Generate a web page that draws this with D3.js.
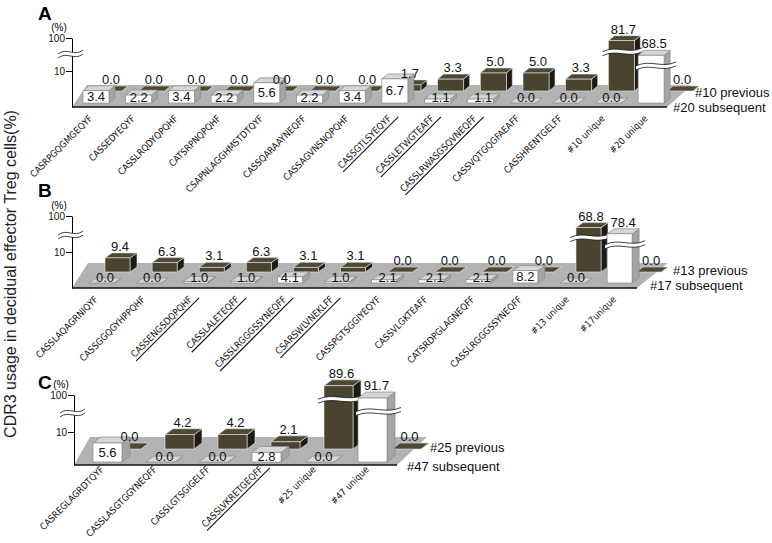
<!DOCTYPE html>
<html>
<head>
<meta charset="utf-8">
<script src="https://cdn.jsdelivr.net/npm/d3@7"></script>
<style>
body { margin: 0; background: #fff; }
svg { display: block; font-family: Arial, "Liberation Sans", sans-serif; }
</style>
</head>
<body>
<div id="chart-area"></div>
<script>
var width = 772, height = 543;

// ---- data ----
// panel A
var catsA = ["CASRPGQGMGEQYF", "CASSEDYEQYF", "CASSLRQDYQPQHF", "CATSRPNQPQHF", "CSAPNLAGGHMSTDTQYF",
    "CASSQARAAYNEQFF", "CASSAGVNSNQPQHF", "CASSGTLSYEQYF", "CASSLETWGTEAFF", "CASSLRWASGSQVNEQFF",
    "CASSVQTGQGFAEAFF", "CASSHRENTGELFF", "#10 unique", "#20 unique"];
var prevA = [0.0, 0.0, 0.0, 0.0, 0.0, 0.0, 0.0, 1.7, 3.3, 5.0, 5.0, 3.3, 81.7, 0.0];
var subsA = [3.4, 2.2, 3.4, 2.2, 5.6, 2.2, 3.4, 6.7, 1.1, 1.1, 0.0, 0.0, 0.0, 68.5];
var underA = [7, 8, 9];
var namesA = ["#10 previous", "#20 subsequent"];

// panel B
var catsB = ["CASSLAQAGRNIQYF", "CASSGGQGYHPPQHF", "CASSENGSDQPQHF", "CASSLALETEQFF", "CASSLRGGGSSYNEQFF",
    "CSARSWLVNEKLFF", "CASSPGTSGGIYEQYF", "CASSVLGKTEAFF", "CATSRDPGLAGNEQFF", "CASSLRGGGSSYNEQFF",
    "#13 unique", "#17unique"];
var prevB = [9.4, 6.3, 3.1, 6.3, 3.1, 3.1, 0.0, 0.0, 0.0, 0.0, 68.8, 0.0];
var subsB = [0.0, 0.0, 1.0, 1.0, 4.1, 1.0, 2.1, 2.1, 2.1, 8.2, 0.0, 78.4];
var underB = [2, 3, 4, 5];
var namesB = ["#13 previous", "#17 subsequent"];

// panel C
var catsC = ["CASREGLAGRDTQYF", "CASSLASGTGGYNEQFF", "CASSLGTSGIGELFF", "CASSLVKRETGEQFF", "#25 unique", "#47 unique"];
var prevC = [0.0, 4.2, 4.2, 2.1, 89.6, 0.0];
var subsC = [5.6, 0.0, 0.0, 2.8, 0.0, 91.7];
var underC = [3];
var namesC = ["#25 previous", "#47 subsequent"];

var yTicks = [10, 100];
var yTitle = "CDR3 usage in decidual effector Treg cells(%)";

// ---- layout of each 3D panel (pixels) ----
var layoutA = { letter: "A", letterY: 20, front: 107, back: 85, fl: 72, fbl: 87, fr: 667, fbr: 692,
    x0: 83, step: 42.7, bw: 26, wBase: 103, dDx: 13, dBase: 91, dx: 6, dy: -5,
    bars: [0, 36, 54], axis: [0, 36, 69], brk: 54, nameX: [695, 673], nameY: [92, 107], labY: 12 };
var layoutB = { letter: "B", letterY: 197, front: 288, back: 263, fl: 72, fbl: 88, fr: 637, fbr: 668,
    x0: 89, step: 47.1, bw: 25, wBase: 283, dDx: 16, dBase: 272, dx: 7, dy: -5,
    bars: [0, 15, 60], axis: [0, 36, 72], brk: 235, nameX: [673, 650], nameY: [270, 285], labY: 12 };
var layoutC = { letter: "C", letterY: 389, front: 465, back: 437, fl: 74, fbl: 90, fr: 397, fbr: 427,
    x0: 93, step: 53, bw: 29, wBase: 462, dDx: 19, dBase: 449, dx: 8, dy: -6,
    bars: [0, 34, 67], axis: [0, 33, 70], brk: 413, nameX: [430, 407], nameY: [447, 466], labY: 5 };

var darkStyle = { front: "#4a4330", top: "#4f4834", side: "#1d1b13", stroke: "#e6e6e6", sw: 0.6 };
var whiteStyle = { front: "#ffffff", top: "#d6d6d6", side: "#a4a4a4", stroke: "#8a8a8a", sw: 0.7 };

var svg = d3.select("#chart-area").append("svg")
    .attr("width", width)
    .attr("height", height);

// y title
svg.append("text")
    .attr("transform", "translate(16 274) rotate(-90)")
    .attr("text-anchor", "middle")
    .attr("font-size", "16px")
    .attr("fill", "#222")
    .text(yTitle);

function pts(a) { return a.map(function(p) { return p[0] + "," + p[1]; }).join(" "); }

// one 3D box: front face, top face, right side
function box(g, x, base, w, h, dx, dy, st) {
    var t = base - h;
    g.append("polygon")
        .attr("points", pts([[x + w, t], [x + w + dx, t + dy], [x + w + dx, base + dy], [x + w, base]]))
        .attr("fill", st.side).attr("stroke", st.stroke).attr("stroke-width", st.sw);
    g.append("polygon")
        .attr("points", pts([[x, t], [x + dx, t + dy], [x + w + dx, t + dy], [x + w, t]]))
        .attr("fill", st.top).attr("stroke", st.stroke).attr("stroke-width", st.sw);
    if (h > 0) {
        g.append("rect")
            .attr("x", x).attr("y", t)
            .attr("width", w).attr("height", h)
            .attr("fill", st.front).attr("stroke", st.stroke).attr("stroke-width", st.sw);
    }
}

// wavy white gap used for the broken scale
function breakBand(g, x1, x2, y, thick) {
    var w = x2 - x1;
    function wave(yy) {
        return "M" + x1 + "," + (yy + 2) +
            " C" + (x1 + w * 0.35) + "," + (yy - 5) + " " + (x1 + w * 0.65) + "," + (yy + 5) + " " + x2 + "," + (yy - 2);
    }
    function waveBack(yy) {
        return " L" + x2 + "," + (yy - 2) +
            " C" + (x1 + w * 0.65) + "," + (yy + 5) + " " + (x1 + w * 0.35) + "," + (yy - 5) + " " + x1 + "," + (yy + 2) + " Z";
    }
    g.append("path").attr("d", wave(y) + waveBack(y + thick)).attr("fill", "#fff");
    g.append("path").attr("d", wave(y)).attr("fill", "none").attr("stroke", "#111").attr("stroke-width", 0.8);
    g.append("path").attr("d", wave(y + thick)).attr("fill", "none").attr("stroke", "#111").attr("stroke-width", 0.8);
}

function drawPanel(L, cats, prev, subs, under, names) {
    var g = svg.append("g");
    var n = cats.length;

    var x = d3.scaleBand()
        .domain(d3.range(n))
        .range([L.x0, L.x0 + (n - 1) * L.step + L.bw])
        .paddingInner(1 - L.bw / L.step)
        .paddingOuter(0);
    var bw = x.bandwidth();
    var hScale = d3.scaleLinear().domain([0, 10, 100]).range(L.bars);
    var yAxis = d3.scaleLinear().domain([0, 10, 100])
        .range([L.front, L.front - L.axis[1], L.front - L.axis[2]]);

    // floor
    g.append("polygon")
        .attr("points", pts([[L.fl, L.front], [L.fbl, L.back], [L.fbr, L.back], [L.fr, L.front]]))
        .attr("fill", "#b2b2b2");

    // y axis
    var ax = g.append("g")
        .attr("transform", "translate(" + L.fl + " 0)")
        .call(d3.axisLeft(yAxis).tickValues(yTicks).tickSize(6).tickSizeOuter(0).tickPadding(1));
    ax.selectAll("text").attr("font-size", "10px").attr("font-family", "Arial, sans-serif").attr("fill", "#111");
    breakBand(g, L.fl - 14, L.fl + 11, L.brk - 2, 4);

    g.append("text")
        .attr("x", L.fl - 13).attr("y", yAxis(100) - 7)
        .attr("text-anchor", "middle")
        .attr("font-size", "10px")
        .text("(%)");

    g.append("text")
        .attr("x", 38).attr("y", L.letterY)
        .attr("font-size", "19px")
        .attr("font-weight", "bold")
        .text(L.letter);

    // floor front edge
    g.append("line")
        .attr("x1", L.fl).attr("x2", L.fr)
        .attr("y1", L.front).attr("y2", L.front)
        .attr("stroke", "#111").attr("stroke-width", 1.6);

    var gb = g.append("g");   // bars
    var gl = g.append("g");   // value labels on top

    function valueLabel(v, lx, ly, central) {
        var t = gl.append("text")
            .attr("x", lx).attr("y", ly)
            .attr("text-anchor", "middle")
            .attr("font-size", "13px")
            .attr("fill", "#111")
            .text(v.toFixed(1));
        if (central) t.attr("dominant-baseline", "central");
    }

    // back row: previous
    prev.forEach(function(v, i) {
        var bx = x(i) + L.dDx, hh = hScale(v);
        // keep a low back bar visible when a tall front bar stands before it
        if (subs[i] > 10 && v < subs[i]) bx = x(i) + bw + L.dx - 3;
        box(gb, bx, L.dBase, bw, hh, L.dx, L.dy, darkStyle);
        if (v > 10) breakBand(gb, bx - 6, bx + bw + L.dx + 2, L.dBase - hh * 0.82, 4);
        valueLabel(v, bx + bw / 2 + L.dx / 2 - 1, L.dBase - hh + L.dy - 2, false);
    });

    // front row: subsequent
    subs.forEach(function(v, i) {
        var bx = x(i), hh = hScale(v);
        box(gb, bx, L.wBase, bw, hh, L.dx, L.dy, whiteStyle);
        if (v > 10) {
            breakBand(gb, bx - 2, bx + bw + L.dx + 6, L.wBase - hh * 0.82, 4);
            valueLabel(v, bx + bw / 2 + L.dx / 2, L.wBase - hh + L.dy - 2, false);
        } else {
            valueLabel(v, bx + bw / 2 + (hh < 4 ? L.dx / 2 : 0), L.wBase - Math.max(hh / 2, 5.5), true);
        }
    });

    // category labels
    cats.forEach(function(c, i) {
        var lg = g.append("g")
            .attr("transform", "translate(" + (x(i) + bw / 2 - 3) + " " + (L.front + L.labY) + ") rotate(-45)");
        var t = lg.append("text")
            .attr("text-anchor", "end")
            .attr("font-family", "'Liberation Sans Narrow', 'DejaVu Sans Condensed', Arial, sans-serif")
            .attr("font-size", "9.4px")
            .attr("fill", "#111")
            .text(c);
        if (under.indexOf(i) >= 0) {
            var len = t.node().getComputedTextLength();
            lg.append("line")
                .attr("x1", -len - 1).attr("x2", 6)
                .attr("y1", 3).attr("y2", 3)
                .attr("stroke", "#111").attr("stroke-width", 1.1);
        }
    });

    // depth labels
    names.forEach(function(nm, k) {
        g.append("text")
            .attr("x", L.nameX[k]).attr("y", L.nameY[k])
            .attr("dominant-baseline", "central")
            .attr("font-size", "13px")
            .attr("fill", "#111")
            .text(nm);
    });
}

drawPanel(layoutA, catsA, prevA, subsA, underA, namesA);
drawPanel(layoutB, catsB, prevB, subsB, underB, namesB);
drawPanel(layoutC, catsC, prevC, subsC, underC, namesC);
</script>
</body>
</html>
